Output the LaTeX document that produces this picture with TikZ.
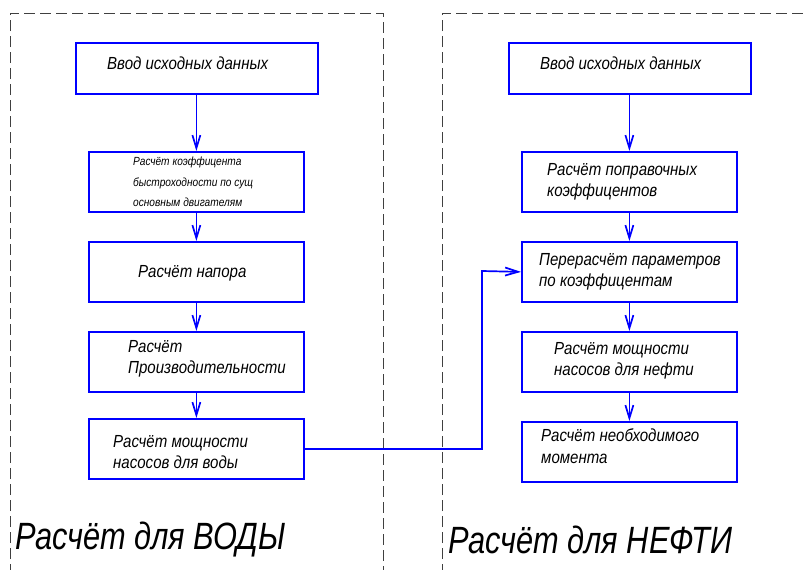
\documentclass[tikz,border=0pt]{standalone}
\usepackage{fontspec}
\setmainfont{Liberation Sans}
\newfontfamily\gostfont[FakeStretch=0.86]{Liberation Sans}
\newfontfamily\gosttitle[FakeStretch=0.81]{Liberation Sans}
\usetikzlibrary{arrows.meta}
\begin{document}
\begin{tikzpicture}[x=1pt,y=-1pt,
  box/.style={draw=blue, line width=1.8pt, inner sep=0pt, anchor=north west},
  bigbox/.style={box, minimum width=242pt, minimum height=51pt},
  stdbox/.style={box, minimum width=215pt, minimum height=60pt},
  flow/.style={draw=blue, line width=1.7pt, -{Straight Barb[length=13pt,width=8pt,line width=1.7pt]}},
  frame/.style={draw=black!75, dash pattern=on 11pt off 5pt, line width=0.8pt},
  lbl/.style={anchor=west, inner sep=0pt, align=left, font={\gostfont\itshape\fontsize{17.5}{21.5}\selectfont}},
  slbl/.style={lbl, font={\gostfont\itshape\fontsize{11.8}{20.5}\selectfont}},
  title/.style={anchor=west, inner sep=0pt, font={\gosttitle\itshape\fontsize{38}{40}\selectfont}}]
\useasboundingbox (0,0) rectangle (807,570);
\clip (0,0) rectangle (807,570);
% frames
\draw[frame] (10,575) -- (10,13) -- (383,13) -- (383,575);
\draw[frame] (442,575) -- (442,13) -- (815,13);
% left column
\node[bigbox] (l1) at (75,42) {};
\node[stdbox] (l2) at (88,151) {};
\node[stdbox] (l3) at (88,241) {};
\node[stdbox] (l4) at (88,331) {};
\node[stdbox] (l5) at (88,418) {};
% right column
\node[bigbox] (r1) at (508,42) {};
\node[stdbox] (r2) at (521,151) {};
\node[stdbox] (r3) at (521,241) {};
\node[stdbox] (r4) at (521,331) {};
\node[stdbox] (r5) at (521,421) {};
% labels
\node[lbl] (t1) at (107,63) {Ввод исходных данных};
\node[slbl] (t2) at (133,182) {Расчёт коэффицента\\быстроходности по сущ\\основным двигателям};
\node[lbl] (t3) at (138,273) {Расчёт напора};
\node[lbl] (t4) at (128,359) {Расчёт\\Производительности};
\node[lbl] (t5) at (113,452) {Расчёт мощности\\насосов для воды};
\node[lbl] (u1) at (540,63) {Ввод исходных данных};
\node[lbl] (u2) at (547,182) {Расчёт поправочных\\коэффицентов};
\node[lbl] (u3) at (539,272) {Перерасчёт параметров\\по коэффицентам};
\node[lbl] (u4) at (554,361) {Расчёт мощности\\насосов для нефти};
\node[lbl] (u5) at (541,446) {Расчёт необходимого\\момента};
\node[title] (tw) at (15,540) {Расчёт для ВОДЫ};
\node[title] (tn) at (448,540) {Расчёт для НЕФТИ};
% connectors
\draw[flow] (l2.north |- l1.south) -- (l2.north);
\draw[flow] (l2.south) -- (l3.north);
\draw[flow] (l3.south) -- (l4.north);
\draw[flow] (l4.south) -- (l5.north);
\draw[flow] (r2.north |- r1.south) -- (r2.north);
\draw[flow] (r2.south) -- (r3.north);
\draw[flow] (r3.south) -- (r4.north);
\draw[flow] (r4.south) -- (r5.north);
\coordinate (bend) at (482,271);
\draw[flow] (l5.east) -| (bend) -- (r3.west);
\end{tikzpicture}
\end{document}
